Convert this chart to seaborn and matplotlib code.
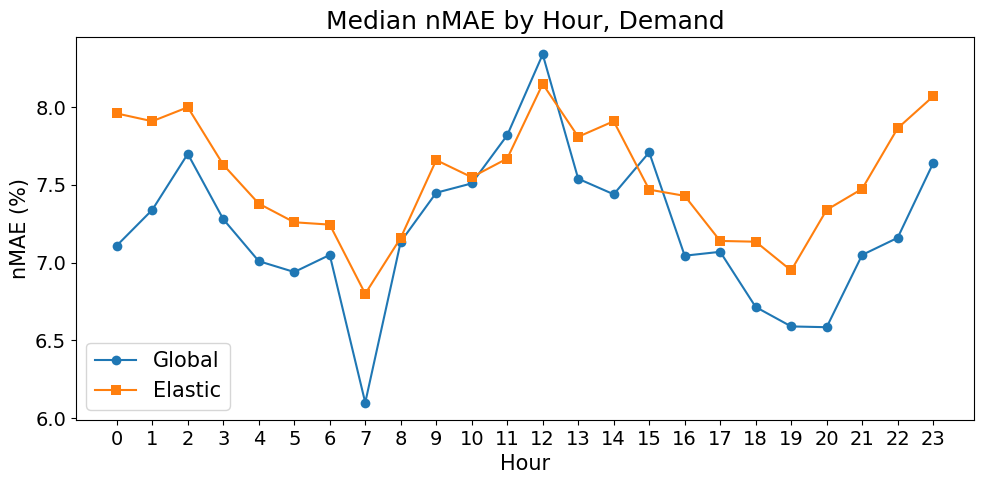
import numpy as np
import pandas as pd
import matplotlib
matplotlib.use("Agg")
import matplotlib.pyplot as plt
import seaborn as sns

hours = list(range(24))
global_nmae = [7.11, 7.34, 7.70, 7.28, 7.01, 6.94, 7.05, 6.10, 7.135, 7.45, 7.51, 7.82,
               8.34, 7.54, 7.44, 7.71, 7.045, 7.07, 6.715, 6.59, 6.585, 7.05, 7.16, 7.64]
elastic_nmae = [7.96, 7.91, 8.00, 7.63, 7.38, 7.26, 7.245, 6.80, 7.16, 7.66, 7.55, 7.67,
                8.15, 7.81, 7.91, 7.47, 7.43, 7.14, 7.135, 6.95, 7.34, 7.475, 7.865, 8.07]

fig, ax = plt.subplots(figsize=(9.84, 4.84), dpi=100)

sns.lineplot(x=hours, y=global_nmae, marker="o", markersize=7, markeredgewidth=0,
             color="#1f77b4", label="Global", ax=ax)
sns.lineplot(x=hours, y=elastic_nmae, marker="s", markersize=7, markeredgewidth=0,
             color="#ff7f0e", label="Elastic", ax=ax)

ax.set_title("Median nMAE by Hour, Demand", fontsize=18)
ax.set_xlabel("Hour", fontsize=15)
ax.set_ylabel("nMAE (%)", fontsize=15)
ax.set_xticks(hours)
ax.set_yticks([6.0, 6.5, 7.0, 7.5, 8.0])
ax.tick_params(labelsize=14)
ax.set_xlim(-1.15, 24.15)
ax.legend(loc="lower left", fontsize=15)

fig.subplots_adjust(left=0.0772, right=0.9898, top=0.9236, bottom=0.1322)
plt.savefig("out.png", dpi=100)
